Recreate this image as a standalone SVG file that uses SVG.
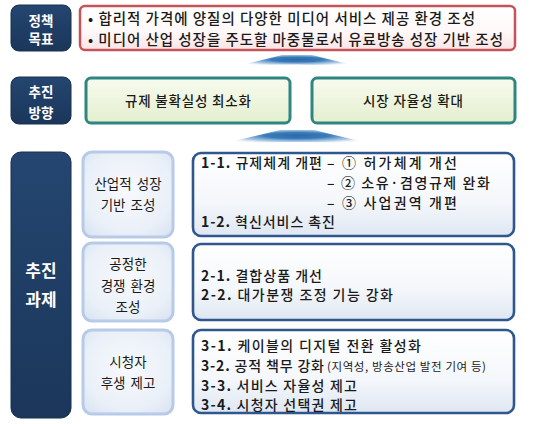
<svg xmlns="http://www.w3.org/2000/svg" width="540" height="424" viewBox="0 0 540 424">
<defs>
<linearGradient id="gNavy" x1="0" y1="0" x2="0" y2="1"><stop offset="0" stop-color="#244670"/><stop offset="1" stop-color="#1b365a"/></linearGradient>
<linearGradient id="gRed" x1="0" y1="0" x2="0" y2="1"><stop offset="0" stop-color="#ffffff"/><stop offset="0.6" stop-color="#fff8f8"/><stop offset="1" stop-color="#fbe3e3"/></linearGradient>
<linearGradient id="gGreen" x1="0" y1="0" x2="0" y2="1"><stop offset="0" stop-color="#f7fbee"/><stop offset="1" stop-color="#e4efcf"/></linearGradient>
<radialGradient id="gSub" cx="0.5" cy="0.45" r="0.7"><stop offset="0" stop-color="#f7f9fd"/><stop offset="0.7" stop-color="#eaf0f8"/><stop offset="1" stop-color="#d9e3f1"/></radialGradient>
<linearGradient id="gTask" x1="0" y1="0" x2="0" y2="1"><stop offset="0" stop-color="#ffffff"/><stop offset="0.6" stop-color="#f4f7fb"/><stop offset="1" stop-color="#dfe7f2"/></linearGradient>
<radialGradient id="gArrow" cx="0.5" cy="0.35" r="0.55"><stop offset="0" stop-color="#2a6aa8"/><stop offset="0.35" stop-color="#3a7bb9"/><stop offset="0.7" stop-color="#8fb6dc" stop-opacity="0.65"/><stop offset="1" stop-color="#ffffff" stop-opacity="0"/></radialGradient>
</defs>
<style>
text{font-family:"Noto Sans CJK KR","Noto Sans",sans-serif;fill:#1a1a1a}
.lbl{fill:#ffffff;font-weight:bold;font-size:13.5px;text-anchor:middle}
.lblBig{fill:#ffffff;font-weight:bold;font-size:17px;text-anchor:middle}
.navy{fill:url(#gNavy);stroke:#16304f;stroke-width:1}
.goal{fill:url(#gRed);stroke:#c4545a;stroke-width:2.5}
.dir{fill:url(#gGreen);stroke:#2f8580;stroke-width:3}
.sub{fill:url(#gSub);stroke:#b7cae8;stroke-width:3}
.task{fill:url(#gTask);stroke:#30578d;stroke-width:2.6}
.arrow{fill:url(#gArrow)}
.gt{font-size:14.5px;font-weight:500}
.dt{font-size:13.5px;font-weight:500;text-anchor:middle}
.st{font-size:13.5px;text-anchor:middle;word-spacing:2px}
.tt{font-size:14px;font-weight:500}
.n{font-weight:bold}
.sm{font-size:11.5px;font-weight:400}
</style>

<g id="connectors">
<path class="arrow" d="M282,55 L312,55 L364,68 Q297,61 230,68 Z"/>
<path class="arrow" d="M280,130 L314,130 L380,146 Q297,138 214,146 Z"/>
</g>

<g id="label-goal">
<rect class="navy" x="11" y="5" width="60" height="46" rx="8"/>
<text class="lbl" x="41" y="25.5">정책</text>
<text class="lbl" x="41" y="44">목표</text>
</g>

<g id="goal-box">
<rect class="goal" x="80" y="6" width="435" height="44" rx="5"/>
<text class="gt" x="88" y="24" textLength="387" lengthAdjust="spacing">• 합리적 가격에 양질의 다양한 미디어 서비스 제공 환경 조성</text>
<text class="gt" x="88" y="45" textLength="415" lengthAdjust="spacing">• 미디어 산업 성장을 주도할 마중물로서 유료방송 성장 기반 조성</text>
</g>

<g id="label-direction">
<rect class="navy" x="11" y="77" width="60" height="47" rx="8"/>
<text class="lbl" x="41" y="97">추진</text>
<text class="lbl" x="41" y="118">방향</text>
</g>

<g id="direction-1">
<rect class="dir" x="86" y="78" width="204" height="45" rx="5"/>
<text class="dt" x="188" y="106" textLength="126" lengthAdjust="spacing">규제 불확실성 최소화</text>
</g>

<g id="direction-2">
<rect class="dir" x="312" y="78" width="203" height="45" rx="5"/>
<text class="dt" x="413" y="106" textLength="100" lengthAdjust="spacing">시장 자율성 확대</text>
</g>

<g id="label-tasks">
<rect class="navy" x="11" y="152" width="60" height="266" rx="10"/>
<text class="lblBig" x="41" y="277">추진</text>
<text class="lblBig" x="41" y="306">과제</text>
</g>

<g id="area-1">
<rect class="sub" x="83" y="152" width="90" height="85" rx="9"/>
<text class="st" x="128" y="189">산업적 성장</text>
<text class="st" x="128" y="210">기반 조성</text>
</g>

<g id="area-2">
<rect class="sub" x="83" y="243" width="90" height="78" rx="9"/>
<text class="st" x="128" y="269">공정한</text>
<text class="st" x="128" y="291">경쟁 환경</text>
<text class="st" x="128" y="312">조성</text>
</g>

<g id="area-3">
<rect class="sub" x="83" y="330" width="90" height="84" rx="9"/>
<text class="st" x="128" y="367">시청자</text>
<text class="st" x="128" y="388">후생 제고</text>
</g>

<g id="tasks-1">
<rect class="task" x="193" y="153" width="321" height="83" rx="8"/>
<text class="tt" x="201" y="168" textLength="121" lengthAdjust="spacing"><tspan class="n">1-1.</tspan> 규제체계 개편</text>
<text class="tt" x="327" y="168" textLength="130" lengthAdjust="spacing">– ① 허가체계 개선</text>
<text class="tt" x="327" y="188" textLength="163" lengthAdjust="spacing">– ② 소유·겸영규제 완화</text>
<text class="tt" x="327" y="207.5" textLength="130" lengthAdjust="spacing">– ③ 사업권역 개편</text>
<text class="tt" x="201" y="227" textLength="134" lengthAdjust="spacing"><tspan class="n">1-2.</tspan> 혁신서비스 촉진</text>
</g>

<g id="tasks-2">
<rect class="task" x="193" y="244" width="321" height="76" rx="8"/>
<text class="tt" x="201" y="281" textLength="121" lengthAdjust="spacing"><tspan class="n">2-1.</tspan> 결합상품 개선</text>
<text class="tt" x="201" y="300" textLength="192" lengthAdjust="spacing"><tspan class="n">2-2.</tspan> 대가분쟁 조정 기능 강화</text>
</g>

<g id="tasks-3">
<rect class="task" x="193" y="330" width="321" height="83" rx="8"/>
<text class="tt" x="201" y="351" textLength="220" lengthAdjust="spacing"><tspan class="n">3-1.</tspan> 케이블의 디지털 전환 활성화</text>
<text class="tt" x="201" y="371" textLength="123" lengthAdjust="spacing"><tspan class="n">3-2.</tspan> 공적 책무 강화</text>
<text class="tt sm" x="327" y="370.5" textLength="159" lengthAdjust="spacing">(지역성, 방송산업 발전 기여 등)</text>
<text class="tt" x="201" y="390.5" textLength="156" lengthAdjust="spacing"><tspan class="n">3-3.</tspan> 서비스 자율성 제고</text>
<text class="tt" x="201" y="410" textLength="156" lengthAdjust="spacing"><tspan class="n">3-4.</tspan> 시청자 선택권 제고</text>
</g>
</svg>
